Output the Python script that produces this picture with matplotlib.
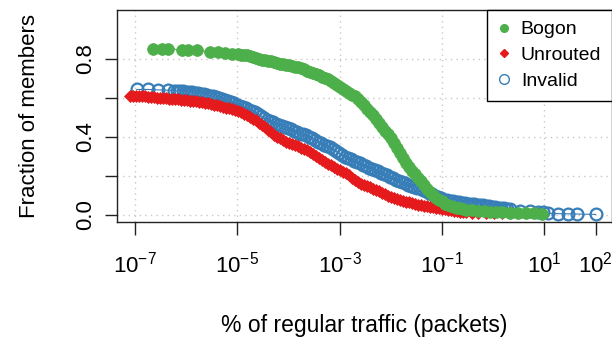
import numpy as np
import matplotlib
matplotlib.use('Agg')
import matplotlib.pyplot as plt
from matplotlib.lines import Line2D

plt.rcParams['font.family'] = ['Liberation Sans', 'DejaVu Sans']
plt.rcParams['mathtext.fontset'] = 'custom'
plt.rcParams['mathtext.rm'] = 'Liberation Sans'
plt.rcParams['mathtext.it'] = 'Liberation Sans:italic'

# log10 of "% of regular traffic", and fraction of members
bogon_exp = [-6.65, -6.47, -6.35, -6.08, -5.96, -5.79, -5.53, -5.37, -5.24, -5.10,
             -4.98, -4.93, -4.87, -4.81, -4.75, -4.69, -4.63, -4.57, -4.52, -4.46,
             -4.40, -4.34, -4.28, -4.22, -4.16, -4.10, -4.05, -3.99, -3.93, -3.87,
             -3.81, -3.75, -3.70, -3.64, -3.58, -3.52, -3.46, -3.40, -3.34, -3.29,
             -3.23, -3.17, -3.11, -3.05, -2.99, -2.93, -2.88, -2.82, -2.76, -2.70,
             -2.64, -2.58, -2.52, -2.47, -2.41, -2.35, -2.29, -2.23, -2.17, -2.11,
             -2.05, -2.00, -1.94, -1.88, -1.82, -1.76, -1.70, -1.64, -1.59, -1.53,
             -1.47, -1.41, -1.35, -1.29, -1.23, -1.18, -1.12, -1.06, -1.00, -0.94,
             -0.88, -0.82, -0.77, -0.71, -0.65, -0.59, -0.53, -0.41, -0.30, -0.18,
             -0.06, 0.05, 0.17, 0.33, 0.49, 0.64, 0.80, 0.95]
bogon_frac = [0.853, 0.853, 0.852, 0.846, 0.845, 0.844, 0.836, 0.834, 0.830, 0.826,
              0.823, 0.821, 0.820, 0.818, 0.815, 0.811, 0.804, 0.799, 0.796, 0.793,
              0.790, 0.787, 0.783, 0.779, 0.776, 0.772, 0.769, 0.766, 0.763, 0.760,
              0.758, 0.754, 0.747, 0.740, 0.733, 0.727, 0.721, 0.715, 0.708, 0.702,
              0.695, 0.687, 0.678, 0.668, 0.657, 0.646, 0.637, 0.623, 0.616, 0.609,
              0.594, 0.580, 0.562, 0.545, 0.527, 0.512, 0.494, 0.472, 0.450, 0.430,
              0.412, 0.393, 0.367, 0.342, 0.316, 0.292, 0.268, 0.246, 0.227, 0.207,
              0.189, 0.172, 0.153, 0.134, 0.115, 0.101, 0.088, 0.078, 0.069, 0.058,
              0.050, 0.044, 0.040, 0.036, 0.033, 0.030, 0.027, 0.023, 0.020, 0.018,
              0.016, 0.014, 0.013, 0.011, 0.009, 0.008, 0.007, 0.006]

unrouted_exp = [-7.09, -7.04, -6.98, -6.92, -6.86, -6.80, -6.74, -6.68, -6.63, -6.57,
                -6.51, -6.45, -6.39, -6.33, -6.27, -6.22, -6.16, -6.10, -6.04, -5.98,
                -5.92, -5.86, -5.80, -5.75, -5.69, -5.63, -5.57, -5.51, -5.45, -5.40,
                -5.34, -5.28, -5.22, -5.16, -5.10, -5.04, -4.98, -4.93, -4.87, -4.81,
                -4.75, -4.69, -4.63, -4.57, -4.52, -4.46, -4.40, -4.34, -4.28, -4.22,
                -4.16, -4.10, -4.05, -3.99, -3.93, -3.87, -3.81, -3.75, -3.70, -3.64,
                -3.58, -3.52, -3.46, -3.40, -3.34, -3.29, -3.23, -3.17, -3.11, -3.05,
                -2.99, -2.93, -2.88, -2.82, -2.76, -2.70, -2.64, -2.58, -2.52, -2.47,
                -2.41, -2.35, -2.29, -2.23, -2.17, -2.11, -2.05, -2.00, -1.94, -1.88,
                -1.82, -1.76, -1.70, -1.64, -1.59, -1.53, -1.47, -1.41, -1.35, -1.29,
                -1.23, -1.18, -1.12, -1.06, -1.00, -0.94, -0.88, -0.82, -0.77, -0.71,
                -0.65, -0.59, -0.53, -0.41, -0.30, -0.14, 0.02, 0.17, 0.33]
unrouted_frac = [0.612, 0.611, 0.610, 0.609, 0.608, 0.607, 0.606, 0.605, 0.603, 0.601,
                 0.599, 0.598, 0.597, 0.596, 0.594, 0.593, 0.592, 0.591, 0.590, 0.588,
                 0.585, 0.584, 0.582, 0.580, 0.578, 0.575, 0.572, 0.568, 0.564, 0.561,
                 0.557, 0.554, 0.550, 0.546, 0.542, 0.537, 0.532, 0.525, 0.518, 0.511,
                 0.503, 0.494, 0.484, 0.473, 0.461, 0.448, 0.435, 0.423, 0.411, 0.401,
                 0.392, 0.384, 0.376, 0.369, 0.362, 0.357, 0.351, 0.345, 0.338, 0.331,
                 0.323, 0.313, 0.303, 0.293, 0.282, 0.272, 0.262, 0.253, 0.243, 0.235,
                 0.228, 0.222, 0.216, 0.203, 0.190, 0.179, 0.168, 0.160, 0.153, 0.147,
                 0.141, 0.134, 0.127, 0.120, 0.113, 0.105, 0.097, 0.091, 0.085, 0.080,
                 0.075, 0.071, 0.067, 0.064, 0.060, 0.056, 0.052, 0.049, 0.046, 0.043,
                 0.041, 0.038, 0.036, 0.033, 0.031, 0.028, 0.026, 0.023, 0.020, 0.018,
                 0.016, 0.014, 0.012, 0.011, 0.010, 0.009, 0.008, 0.007, 0.007]

invalid_exp = [-6.96, -6.74, -6.55, -6.35, -6.23, -6.18, -6.12, -6.06, -6.00, -5.94,
               -5.88, -5.82, -5.77, -5.71, -5.65, -5.59, -5.53, -5.47, -5.41, -5.36,
               -5.30, -5.24, -5.18, -5.12, -5.06, -5.00, -4.95, -4.89, -4.83, -4.77,
               -4.71, -4.65, -4.59, -4.54, -4.48, -4.42, -4.36, -4.30, -4.24, -4.18,
               -4.13, -4.07, -4.01, -3.95, -3.89, -3.83, -3.77, -3.72, -3.66, -3.60,
               -3.54, -3.48, -3.42, -3.36, -3.30, -3.25, -3.19, -3.13, -3.07, -3.01,
               -2.95, -2.90, -2.84, -2.78, -2.72, -2.66, -2.60, -2.54, -2.48, -2.43,
               -2.37, -2.31, -2.25, -2.19, -2.13, -2.07, -2.02, -1.96, -1.90, -1.84,
               -1.78, -1.72, -1.66, -1.61, -1.55, -1.49, -1.43, -1.37, -1.31, -1.25,
               -1.20, -1.14, -1.08, -1.02, -0.96, -0.90, -0.84, -0.79, -0.73, -0.67,
               -0.61, -0.55, -0.49, -0.43, -0.38, -0.32, -0.26, -0.20, -0.14, -0.08,
               -0.02, 0.04, 0.09, 0.15, 0.21, 0.27, 0.33, 0.52, 0.72, 0.88,
               0.97, 1.07, 1.27, 1.46, 1.64, 2.00]
invalid_frac = [0.643, 0.643, 0.641, 0.639, 0.637, 0.636, 0.635, 0.634, 0.632, 0.631,
                0.629, 0.627, 0.625, 0.622, 0.619, 0.615, 0.611, 0.607, 0.602, 0.598,
                0.594, 0.589, 0.584, 0.578, 0.571, 0.565, 0.559, 0.553, 0.546, 0.540,
                0.534, 0.525, 0.515, 0.505, 0.495, 0.488, 0.480, 0.474, 0.467, 0.462,
                0.457, 0.452, 0.447, 0.440, 0.432, 0.425, 0.417, 0.412, 0.407, 0.401,
                0.395, 0.385, 0.375, 0.368, 0.360, 0.355, 0.349, 0.339, 0.328, 0.317,
                0.305, 0.298, 0.290, 0.284, 0.278, 0.271, 0.264, 0.256, 0.248, 0.242,
                0.235, 0.230, 0.224, 0.217, 0.210, 0.203, 0.195, 0.187, 0.178, 0.172,
                0.166, 0.161, 0.155, 0.150, 0.145, 0.140, 0.135, 0.128, 0.121, 0.114,
                0.106, 0.098, 0.090, 0.084, 0.077, 0.075, 0.072, 0.070, 0.067, 0.065,
                0.062, 0.060, 0.057, 0.055, 0.053, 0.051, 0.049, 0.048, 0.046, 0.044,
                0.041, 0.039, 0.037, 0.035, 0.033, 0.031, 0.030, 0.022, 0.018, 0.015,
                0.012, 0.008, 0.006, 0.005, 0.004, 0.002]

x_ticks = [1e-7, 1e-5, 1e-3, 1e-1, 1e1, 1e2]
x_ticklabels = [r'$\mathregular{10^{-7}}$', r'$\mathregular{10^{-5}}$', r'$\mathregular{10^{-3}}$',
                r'$\mathregular{10^{-1}}$', r'$\mathregular{10^{1}}$', r'$\mathregular{10^{2}}$']
x_grid = [1e-7, 1e-5, 1e-3, 1e-1, 1e1]
y_ticks = [0.0, 0.2, 0.4, 0.6, 0.8]
y_ticklabels = ['0.0', '', '0.4', '', '0.8']

green = '#4DAF4A'
red = '#E41A1C'
blue = '#377EB8'

fig = plt.figure(figsize=(6.12, 3.37), dpi=100)
ax = fig.add_axes([0.191, 0.340, 0.809, 0.630])

for gx in x_grid:
    ax.axvline(gx, color='#C8C8C8', lw=1.0, ls=(0, (1, 3)), zorder=0)
for gy in y_ticks:
    ax.axhline(gy, color='#C8C8C8', lw=1.0, ls=(0, (1, 3)), zorder=0)

ax.plot(10 ** np.array(invalid_exp), invalid_frac, color=blue, lw=0.8, marker='o', ms=8.5,
        mfc='none', mec=blue, mew=1.6, zorder=2)
ax.plot(10 ** np.array(unrouted_exp), unrouted_frac, color=red, lw=0.8, marker='D', ms=6,
        mfc=red, mec=red, mew=0.5, zorder=3)
ax.plot(10 ** np.array(bogon_exp), bogon_frac, color=green, lw=0.8, marker='o', ms=8.5,
        mfc=green, mec=green, mew=0.5, zorder=4)

ax.set_xscale('log')
ax.set_xlim(10 ** -7.348, 10 ** 2.32)
ax.set_ylim(-0.039, 1.05)
ax.set_xticks(x_ticks)
ax.set_xticklabels(x_ticklabels)
ax.xaxis.set_minor_locator(matplotlib.ticker.NullLocator())
ax.set_yticks(y_ticks)
ax.set_yticklabels(y_ticklabels, rotation=90, va='center')
ax.tick_params(axis='both', labelsize=16, length=9, width=1.0, color='#222222', pad=6)
ax.tick_params(axis='x', pad=12)
for s in ax.spines.values():
    s.set_linewidth(1.0)
    s.set_color('#222222')

ax.set_xlabel('% of regular traffic (packets)', fontsize=16.5, labelpad=26)
ax.set_ylabel('Fraction of members', fontsize=16, labelpad=25)

handles = [
    Line2D([], [], ls='none', marker='o', ms=5.5, mfc=green, mec=green, label='Bogon'),
    Line2D([], [], ls='none', marker='D', ms=4, mfc=red, mec=red, label='Unrouted'),
    Line2D([], [], ls='none', marker='o', ms=7, mfc='none', mec=blue, mew=1.0, label='Invalid'),
]
leg = ax.legend(handles=handles, loc='upper right', bbox_to_anchor=(1.0, 1.0), borderaxespad=0,
                fontsize=14, fancybox=False, framealpha=1, edgecolor='black', borderpad=0.55,
                handlelength=0.65, handletextpad=0.55, labelspacing=0.42)
leg.get_frame().set_linewidth(1.0)

fig.savefig('out.png', dpi=100)
